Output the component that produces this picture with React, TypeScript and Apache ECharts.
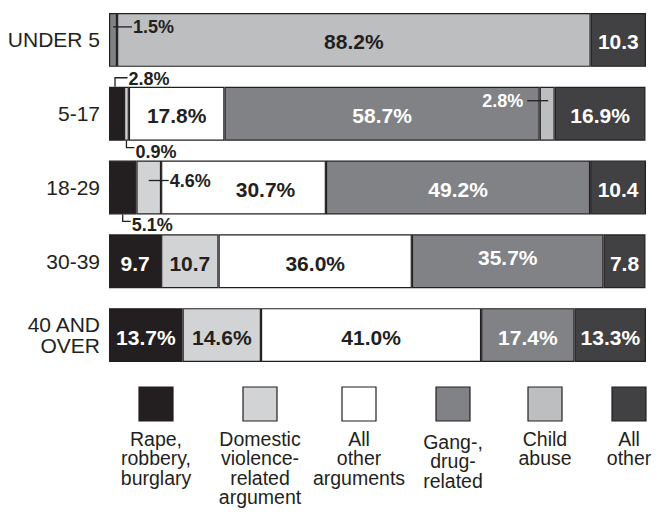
import React, { useEffect, useRef } from "react";
import * as echarts from "echarts";

// ---- data ----
const ageGroups = ["UNDER 5", "5-17", "18-29", "30-39", "40 AND\nOVER"];
const seriesNames = [
  "Rape, robbery, burglary",
  "Domestic violence-related argument",
  "All other arguments",
  "Gang-, drug-related",
  "Child abuse",
  "All other",
];
const legendTexts = [
  "Rape,\nrobbery,\nburglary",
  "Domestic\nviolence-\nrelated\nargument",
  "All\nother\narguments",
  "Gang-,\ndrug-\nrelated",
  "Child\nabuse",
  "All\nother",
];
const rape = [0, 2.8, 5.1, 9.7, 13.7];
const domestic = [0, 0.9, 4.6, 10.7, 14.6];
const otherArguments = [0, 17.8, 30.7, 36.0, 41.0];
const gangDrug = [1.5, 58.7, 49.2, 35.7, 17.4];
const childAbuse = [88.2, 2.8, 0, 0, 0];
const allOther = [10.3, 16.9, 10.4, 7.8, 13.3];
const seriesValues = [rape, domestic, otherArguments, gangDrug, childAbuse, allOther];

// cells whose labels are shown without "%": [row, series]
const noPercentCells = [
  [0, 5],
  [2, 5],
  [3, 0],
  [3, 1],
  [3, 5],
];
// labels drawn outside the segment with a leader line: [row, series]
const calloutCells = [
  [0, 3],
  [1, 0],
  [1, 1],
  [1, 4],
  [2, 0],
  [2, 1],
];

// ---- styles ----
const FONT = "'Liberation Sans', Arial, Helvetica, sans-serif";
const INK = "#231f20";
const COLORS = ["#231f20", "#d1d3d4", "#ffffff", "#808285", "#bcbec0", "#414042"];
const LABEL_COLORS = ["#ffffff", INK, INK, "#ffffff", INK, "#ffffff"];
// label nudges: [row, series, dx, dy]
const labelNudges = [
  [2, 2, 22, 2],
  [3, 3, 0, -4],
];
// callout drawing styles (parallel to calloutCells)
const calloutKinds = ["sideRight", "above", "below", "sideLeft", "below", "sideRightLow"];
const calloutColors = [INK, INK, INK, "#ffffff", INK, INK];
const legendCenters = [156, 260, 359, 453, 545, 629];

const isIn = (list: number[][], r: number, s: number) =>
  list.some((c) => c[0] === r && c[1] === s);

export default function App() {
  const ref = useRef<HTMLDivElement>(null);

  useEffect(() => {
    if (!ref.current) return;
    const chart = echarts.init(ref.current, null, { renderer: "svg" });

    const barSeries = seriesValues.map((vals, s) => ({
      name: seriesNames[s],
      type: "bar",
      stack: "total",
      barWidth: "73%",
      data: vals.map((v, r) => {
        if (v === 0) return "-";
        const n = labelNudges.find((c) => c[0] === r && c[1] === s);
        return n ? { value: v, label: { offset: [n[2], n[3]] } } : v;
      }),
      itemStyle: { color: COLORS[s], borderColor: INK, borderWidth: 1.2 },
      label: {
        show: true,
        position: "inside",
        offset: [0, 2],
        color: LABEL_COLORS[s],
        fontFamily: FONT,
        fontSize: 21,
        fontWeight: "bold",
        formatter: (p: any) => {
          const r = p.dataIndex;
          if (isIn(calloutCells, r, s)) return "";
          const v = Number(p.value);
          return isIn(noPercentCells, r, s) ? v.toFixed(1) : v.toFixed(1) + "%";
        },
      },
      emphasis: { disabled: true },
    }));

    const calloutSeries = {
      type: "custom",
      silent: true,
      z: 10,
      encode: { x: 0, y: 1 },
      data: calloutCells.map((c, i) => [0, c[0], i]),
      renderItem: (_params: any, api: any) => {
        const i = api.value(2);
        const [row, s] = calloutCells[i];
        let start = 0;
        for (let k = 0; k < s; k++) start += seriesValues[k][row];
        const val = seriesValues[s][row];
        const p0 = api.coord([start, row]);
        const p1 = api.coord([start + val, row]);
        const sx = (p0[0] + p1[0]) / 2;
        const cy = p0[1];
        const half = (api.size([0, 1])[1] * 0.73) / 2;
        const top = cy - half;
        const bottom = cy + half;
        const kind = calloutKinds[i];
        let pts: number[][] = [];
        let tx = 0;
        let ty = 0;
        let align = "left";
        if (kind === "sideRight") {
          pts = [[sx, cy - 13], [sx + 19, cy - 13]];
          tx = sx + 20;
          ty = cy - 13;
        } else if (kind === "sideRightLow") {
          pts = [[sx, cy - 7], [sx + 20, cy - 7]];
          tx = sx + 21;
          ty = cy - 7;
        } else if (kind === "sideLeft") {
          pts = [[sx + 1, cy - 13], [sx - 20, cy - 13]];
          tx = sx - 24;
          ty = cy - 13;
          align = "right";
        } else if (kind === "above") {
          pts = [[sx - 1.5, top], [sx - 1.5, top - 9], [sx + 11, top - 9]];
          tx = sx + 12;
          ty = top - 8;
        } else {
          pts = [[sx, bottom], [sx, bottom + 7], [sx + 8, bottom + 7]];
          tx = sx + 9;
          ty = bottom + 11;
        }
        const v = val.toFixed(1) + "%";
        return {
          type: "group",
          children: [
            {
              type: "polyline",
              shape: { points: pts },
              style: { stroke: INK, lineWidth: 1.3, fill: "none" },
            },
            {
              type: "text",
              x: tx,
              y: ty,
              style: {
                text: v,
                fill: calloutColors[i],
                font: `bold 18px ${FONT}`,
                align,
                verticalAlign: "middle",
                textAlign: align,
                textVerticalAlign: "middle",
              },
            },
          ],
        };
      },
    };

    const legendGraphics: any[] = [];
    legendCenters.forEach((cx, s) => {
      legendGraphics.push({
        type: "rect",
        shape: { x: cx - 17, y: 387, width: 34, height: 34 },
        style: { fill: COLORS[s], stroke: INK, lineWidth: 1.2 },
        silent: true,
      });
      legendGraphics.push({
        type: "text",
        x: cx,
        y: s === 3 ? 432 : 429,
        style: {
          text: legendTexts[s],
          fill: INK,
          font: `19.5px ${FONT}`,
          align: "center",
          verticalAlign: "top",
          textAlign: "center",
          textVerticalAlign: "top",
          lineHeight: 19.5,
        },
        silent: true,
      });
    });

    chart.setOption({
      animation: false,
      backgroundColor: "#ffffff",
      grid: { left: 109, right: 11, top: 3, height: 369, containLabel: false },
      xAxis: {
        type: "value",
        min: 0,
        max: 100,
        show: false,
      },
      yAxis: {
        type: "category",
        data: ageGroups,
        inverse: true,
        axisLine: { show: false },
        axisTick: { show: false },
        splitLine: { show: false },
        axisLabel: {
          color: INK,
          fontFamily: FONT,
          fontSize: 21,
          lineHeight: 21,
          margin: 9,
        },
      },
      series: [...barSeries, calloutSeries],
      graphic: legendGraphics,
    });

    return () => chart.dispose();
  }, []);

  return (
    <div
      ref={ref}
      style={{ position: "fixed", left: 0, top: 0, width: 657, height: 515, background: "#fff" }}
    />
  );
}
